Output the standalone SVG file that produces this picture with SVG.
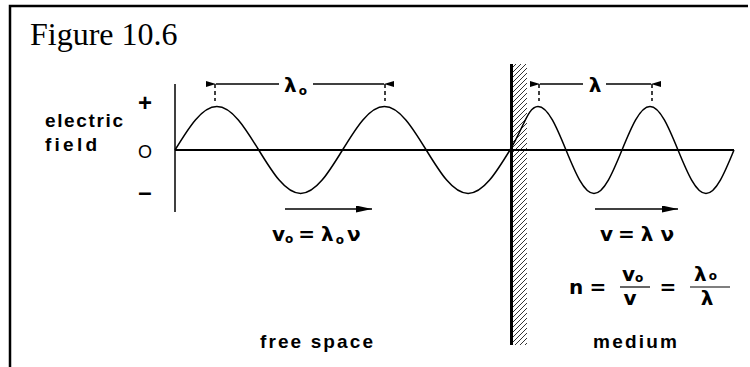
<svg xmlns="http://www.w3.org/2000/svg" width="750" height="367" viewBox="0 0 750 367">
<style>
.lbl{font-family:"Liberation Sans",Arial,sans-serif;font-weight:bold;font-size:19px;fill:#000}
.big{font-size:24px}
.ax0{font-weight:normal;font-size:18px}
.gr{font-family:"DejaVu Sans","Liberation Sans",sans-serif;font-weight:bold;font-size:20px;fill:#000}
.sub{font-size:12px}
.ln{stroke:#000;fill:none}
</style>
<defs>
<pattern id="hatch" patternUnits="userSpaceOnUse" width="5" height="5">
<path d="M-1,6 L6,-1" stroke="#000" stroke-width="0.8"/>
</pattern>
<marker id="dimArrow" viewBox="0 0 10 6" refX="0" refY="3" markerWidth="10" markerHeight="6" markerUnits="userSpaceOnUse" orient="auto-start-reverse">
<path d="M10,0 L0,3 L10,6 z" fill="#000"/>
</marker>
<marker id="velArrow" viewBox="0 0 16 7" refX="16" refY="3.5" markerWidth="16" markerHeight="7" markerUnits="userSpaceOnUse" orient="auto">
<path d="M0,0 L16,3.5 L0,7 z" fill="#000"/>
</marker>
</defs>
<rect width="750" height="367" fill="#fff"/>
<path d="M10,367 L10,6 L748,6" class="ln" stroke-width="2.5"/>
<text x="30" y="45" font-family="Liberation Serif,'Times New Roman',serif" font-size="32" fill="#000">Figure 10.6</text>

<g id="axes">
<line x1="175" y1="84" x2="175" y2="212" class="ln" stroke-width="1.5"/>
<line x1="175" y1="150" x2="734" y2="150" class="ln" stroke-width="2"/>
</g>

<g id="axis-labels">
<text x="145" y="111" class="lbl big" text-anchor="middle">+</text>
<text x="145" y="158" class="lbl ax0" text-anchor="middle">O</text>
<text x="145" y="200" class="lbl big" text-anchor="middle">–</text>
<text x="45" y="127" class="lbl" textLength="78" lengthAdjust="spacing">electric</text>
<text x="45" y="151" class="lbl" textLength="52" lengthAdjust="spacing">field</text>
</g>

<g id="wall">
<rect x="512" y="64" width="15" height="281" fill="url(#hatch)"/>
<rect x="510" y="64" width="3" height="281" fill="#000"/>
</g>

<g id="wave">
<path class="ln" stroke-width="1.5" d="M175,150 c13.66,-22.28 26.79,-43.5 41.875,-43.5 s28.22,21.22 41.875,43.5 s26.79,43.5 41.875,43.5 s28.22,-21.22 41.875,-43.5 s26.79,-43.5 41.875,-43.5 s28.22,21.22 41.875,43.5 s26.79,43.5 41.875,43.5 s28.22,-21.22 41.875,-43.5 s17.91,-43.5 28,-43.5 s18.87,21.22 28,43.5 s17.91,43.5 28,43.5 s18.87,-21.22 28,-43.5 s17.91,-43.5 28,-43.5 s18.87,21.22 28,43.5 s17.91,43.5 28,43.5 s18.87,-21.22 28,-43.5"/>
</g>

<g id="connectors">
<line x1="215" y1="84" x2="215" y2="101" class="ln" stroke-width="1.5" stroke-dasharray="4,3"/>
<line x1="385" y1="84" x2="385" y2="101" class="ln" stroke-width="1.5" stroke-dasharray="4,3"/>
<line x1="216" y1="84" x2="279" y2="84" class="ln" stroke-width="1.5" marker-start="url(#dimArrow)"/>
<line x1="313" y1="84" x2="384" y2="84" class="ln" stroke-width="1.5" marker-end="url(#dimArrow)"/>
<line x1="539" y1="84" x2="539" y2="101" class="ln" stroke-width="1.5" stroke-dasharray="4,3"/>
<line x1="652" y1="84" x2="652" y2="101" class="ln" stroke-width="1.5" stroke-dasharray="4,3"/>
<line x1="540" y1="84" x2="583" y2="84" class="ln" stroke-width="1.5" marker-start="url(#dimArrow)"/>
<line x1="606" y1="84" x2="651" y2="84" class="ln" stroke-width="1.5" marker-end="url(#dimArrow)"/>
<line x1="285" y1="209" x2="372" y2="209" class="ln" stroke-width="1.5" marker-end="url(#velArrow)"/>
<line x1="595" y1="209" x2="678" y2="209" class="ln" stroke-width="1.5" marker-end="url(#velArrow)"/>
</g>

<g id="dim-labels">
<text x="284" y="92" class="gr">λ<tspan class="sub" dx="2" dy="3">o</tspan></text>
<text x="595" y="92" class="gr" text-anchor="middle">λ</text>
</g>

<g id="free-space-eq">
<text x="272" y="241" class="gr">v<tspan class="sub" dy="2">o</tspan><tspan dy="-2" dx="5">=</tspan><tspan dx="6">λ</tspan><tspan class="sub" dx="2" dy="3">o</tspan><tspan dx="3" dy="-3">ν</tspan></text>
</g>

<g id="medium-eq">
<text x="600" y="241" class="gr">v<tspan dx="5">=</tspan><tspan dx="6">λ</tspan><tspan dx="7">ν</tspan></text>
</g>

<g id="index-eq">
<text x="569" y="294" class="gr">n</text>
<text x="598" y="294" class="gr" text-anchor="middle">=</text>
<text x="622" y="281" class="gr">v<tspan class="sub" dy="1">o</tspan></text>
<line x1="620" y1="287" x2="650" y2="287" class="ln" stroke-width="1.2"/>
<text x="630" y="305" class="gr" text-anchor="middle">v</text>
<text x="668" y="294" class="gr" text-anchor="middle">=</text>
<text x="694" y="281" class="gr">λ<tspan class="sub" dx="2" dy="-1">o</tspan></text>
<line x1="690" y1="287" x2="730" y2="287" class="ln" stroke-width="1.2"/>
<text x="707" y="305" class="gr" text-anchor="middle">λ</text>
</g>

<g id="region-labels">
<text x="260" y="348" class="lbl" textLength="113" lengthAdjust="spacing">free space</text>
<text x="593" y="348" class="lbl" textLength="84" lengthAdjust="spacing">medium</text>
</g>
</svg>
